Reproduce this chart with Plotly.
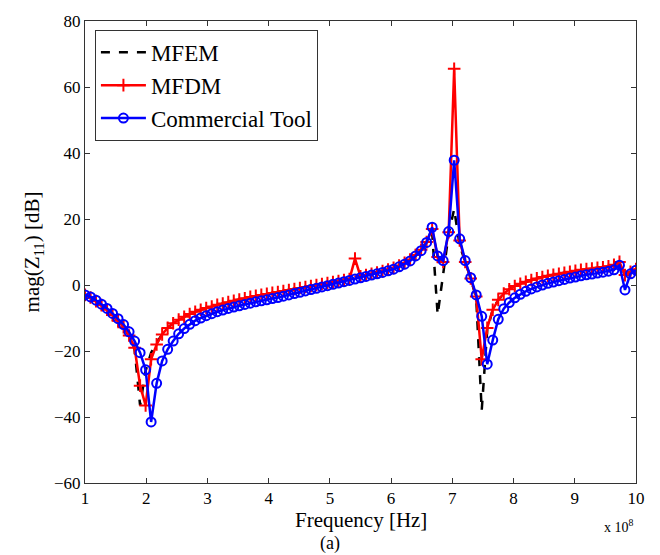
import plotly.graph_objects as go

# Frequency in units of 1e8 Hz
FREQ = [1.00, 1.09, 1.18, 1.27, 1.36, 1.45, 1.54, 1.63, 1.72, 1.81,
        1.90, 1.99, 2.08, 2.17, 2.26, 2.35, 2.44, 2.53, 2.62, 2.71,
        2.80, 2.89, 2.98, 3.07, 3.16, 3.25, 3.34, 3.43, 3.52, 3.61,
        3.70, 3.79, 3.88, 3.97, 4.06, 4.15, 4.24, 4.33, 4.42, 4.51,
        4.60, 4.69, 4.78, 4.87, 4.96, 5.05, 5.14, 5.23, 5.32, 5.41,
        5.50, 5.59, 5.68, 5.77, 5.86, 5.95, 6.04, 6.13, 6.22, 6.31,
        6.40, 6.49, 6.58, 6.67, 6.76, 6.85, 6.94, 7.03, 7.12, 7.21,
        7.30, 7.39, 7.48, 7.57, 7.66, 7.75, 7.84, 7.93, 8.02, 8.11,
        8.20, 8.29, 8.38, 8.47, 8.56, 8.65, 8.74, 8.83, 8.92, 9.01,
        9.10, 9.19, 9.28, 9.37, 9.46, 9.55, 9.64, 9.73, 9.82, 9.91,
        10.00]

MFEM = [-3.0, -3.8, -4.9, -6.1, -7.5, -9.1, -10.8, -12.8, -15.3, -19.5,
        -36.5, -26.0, -20.5, -17.5, -15.0, -13.0, -11.6, -10.5, -9.6, -8.8,
        -8.1, -7.5, -7.0, -6.5, -6.0, -5.6, -5.2, -4.8, -4.4, -4.0,
        -3.6, -3.3, -3.0, -2.7, -2.4, -2.1, -1.8, -1.5, -1.2, -0.9,
        -0.6, -0.3, 0.0, 0.3, 0.6, 0.9, 1.2, 1.5, 1.8, 2.2,
        2.6, 3.0, 3.4, 3.8, 4.2, 4.7, 5.2, 5.9, 6.7, 7.7,
        9.1, 10.7, 13.0, 16.0, -9.0, 2.5, 15.5, 23.0, 12.0, 7.0,
        2.0, -4.0, -38.0, -13.5, -7.5, -4.5, -2.6, -1.3, -0.3, 0.4,
        1.0, 1.5, 2.0, 2.4, 2.8, 3.1, 3.4, 3.7, 4.0, 4.3,
        4.6, 4.8, 5.0, 5.2, 5.4, 5.7, 6.1, 7.0, 3.0, 4.0,
        4.8]

MFDM = [-3.0, -3.8, -4.9, -6.1, -7.5, -9.1, -10.8, -12.8, -15.3, -19.0,
        -30.5, -36.5, -22.5, -18.0, -15.0, -13.0, -11.6, -10.5, -9.6, -8.8,
        -8.1, -7.5, -7.0, -6.5, -6.0, -5.6, -5.2, -4.8, -4.4, -4.0,
        -3.6, -3.3, -3.0, -2.7, -2.4, -2.1, -1.8, -1.5, -1.2, -0.9,
        -0.6, -0.3, 0.0, 0.3, 0.6, 0.9, 1.2, 1.5, 1.8, 8.0,
        2.6, 3.0, 3.4, 3.8, 4.2, 4.7, 5.2, 5.9, 6.7, 7.7,
        9.1, 10.7, 13.0, 17.0, 8.5, 7.0, 16.0, 65.5, 13.5, 7.0,
        2.0, -3.5, -22.5, -13.0, -7.5, -4.5, -2.6, -1.3, -0.3, 0.4,
        1.0, 1.5, 2.0, 2.4, 2.8, 3.1, 3.4, 3.7, 4.0, 4.3,
        4.6, 4.8, 5.0, 5.2, 5.4, 5.7, 6.1, 7.0, 3.0, 4.0,
        4.8]

COMMERCIAL = [-3.0, -3.6, -4.6, -5.8, -7.1, -8.6, -10.2, -12.0, -14.2, -17.0,
              -20.5, -25.7, -41.5, -29.8, -23.0, -19.5, -17.0, -14.8, -13.2, -11.9,
              -10.8, -10.0, -9.3, -8.7, -8.1, -7.6, -7.1, -6.7, -6.3, -5.9,
              -5.5, -5.1, -4.8, -4.5, -4.1, -3.8, -3.4, -3.0, -2.6, -2.2,
              -1.8, -1.4, -1.0, -0.6, -0.2, 0.2, 0.6, 1.0, 1.4, 1.8,
              2.2, 2.6, 3.0, 3.4, 3.8, 4.3, 4.8, 5.5, 6.3, 7.3,
              8.8, 10.4, 12.9, 17.5, 8.8, 7.4, 16.2, 37.8, 14.0, 7.4,
              2.2, -3.0, -9.5, -24.0, -16.7, -10.4, -7.2, -5.3, -3.9, -2.8,
              -1.9, -1.2, -0.6, 0.0, 0.5, 0.9, 1.3, 1.7, 2.1, 2.4,
              2.8, 3.1, 3.3, 3.6, 3.9, 4.2, 4.6, 6.0, -1.5, 3.4,
              4.5]

X_TICKS = [1, 2, 3, 4, 5, 6, 7, 8, 9, 10]
Y_TICKS = [-60, -40, -20, 0, 20, 40, 60, 80]

FONT = "Liberation Serif, Times New Roman, DejaVu Serif, serif"

fig = go.Figure()
fig.add_trace(go.Scatter(
    x=FREQ, y=MFEM, name="MFEM", mode="lines",
    line=dict(color="black", width=2.5, dash="dash")))
fig.add_trace(go.Scatter(
    x=FREQ, y=MFDM, name="MFDM", mode="lines+markers",
    line=dict(color="#ff0000", width=2.5),
    marker=dict(symbol="cross-thin", size=9, line=dict(color="#ff0000", width=2))))
fig.add_trace(go.Scatter(
    x=FREQ, y=COMMERCIAL, name="Commercial Tool", mode="lines+markers",
    line=dict(color="#0000ff", width=2.5),
    marker=dict(symbol="circle-open", size=9, color="#0000ff", line=dict(width=2))))

axis_common = dict(
    showgrid=False, zeroline=False, showline=True, linecolor="#333333", linewidth=1,
    mirror="allticks", ticks="inside", ticklen=5, tickcolor="#333333",
    tickfont=dict(family=FONT, size=17, color="black"),
)

fig.update_xaxes(range=[1, 10], tickvals=X_TICKS, ticktext=[str(t) for t in X_TICKS],
                 **axis_common)
fig.update_yaxes(range=[-60, 80], tickvals=Y_TICKS,
                 ticktext=[str(t) if t >= 0 else "\u2212" + str(-t) for t in Y_TICKS],
                 title=dict(text="mag(Z<sub>11</sub>) [dB]", font=dict(family=FONT, size=21, color="black"),
                            standoff=8),
                 **axis_common)

fig.add_annotation(text="Frequency [Hz]", xref="paper", yref="paper", x=0.5, y=-0.08,
                   xanchor="center", yanchor="middle", showarrow=False,
                   font=dict(family=FONT, size=21, color="black"))
fig.add_annotation(text="x 10<sup>8</sup>", xref="paper", yref="paper", x=0.97, y=-0.094,
                   xanchor="center", yanchor="middle", showarrow=False,
                   font=dict(family=FONT, size=14, color="black"))
fig.add_annotation(text="(a)", xref="paper", yref="paper", x=0.445, y=-0.132,
                   xanchor="center", yanchor="middle", showarrow=False,
                   font=dict(family=FONT, size=18, color="black"))

fig.update_layout(
    width=660, height=555,
    margin=dict(l=85, r=24, t=14, b=72),
    paper_bgcolor="white", plot_bgcolor="white",
    showlegend=True,
    legend=dict(x=0.018, y=0.981, xanchor="left", yanchor="top",
                bgcolor="white", bordercolor="#333333", borderwidth=1,
                font=dict(family=FONT, size=23, color="black"),
                itemwidth=45, tracegroupgap=0),
)

fig.write_html("out.html", config={"displayModeBar": False},
               post_script="document.body.style.margin='0px';document.body.style.padding='0px';")
